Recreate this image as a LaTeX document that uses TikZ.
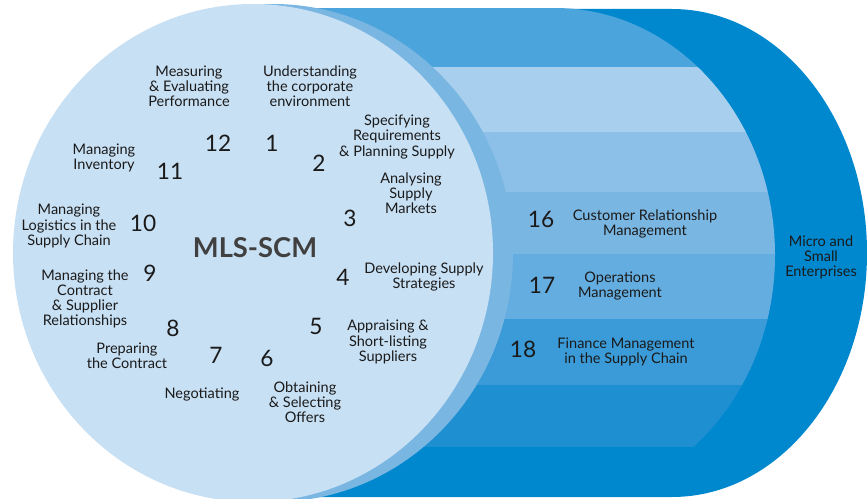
\documentclass[tikz,border=0pt]{standalone}
\usepackage{fontspec}
\setmainfont{Lato}
\usepackage{xcolor}
\usepackage{tikz}
\definecolor{ink}{HTML}{1A1A1A}
\definecolor{titlegrey}{HTML}{404040}
\definecolor{face}{HTML}{C8E0F4}
\definecolor{rim}{HTML}{7AB6E2}
\definecolor{deep}{HTML}{0088CF}
\definecolor{bandA}{HTML}{4CA4DC}
\definecolor{bandB}{HTML}{A8CFEE}
\definecolor{bandC}{HTML}{8CC0E8}
\definecolor{bandD}{HTML}{7AB6E2}
\definecolor{bandE}{HTML}{64ADE0}
\definecolor{bandF}{HTML}{3A9BD8}
\definecolor{bandG}{HTML}{1E90D2}
\tikzset{
  num/.style={text=ink, font=\fontsize{17}{17}\selectfont, inner sep=0pt},
  lbl/.style={text=ink, font=\fontsize{10.9}{11.3}\selectfont, align=center, inner sep=0pt},
  hub/.style={text=titlegrey, font=\fontsize{20.5}{20.5}\selectfont\bfseries, inner sep=0pt}
}

\begin{document}
\begin{tikzpicture}[x=0.75pt, y=-0.75pt]
  \useasboundingbox (0,0) rectangle (867,499);
  \clip (0,0) rectangle (867,499);

  % outer body
  \fill[deep] (260,9) -- (672,9) arc[start angle=-90, end angle=90, x radius=195, y radius=244] -- (260,497) -- cycle;

  % stripes
  \begin{scope}
    \clip (250,8) -- (555,8) arc[start angle=-90, end angle=90, x radius=220, y radius=247] -- (250,502) -- cycle;
    \foreach \ytop/\ybot/\col in {8/67/bandA, 67/132/bandB, 132/192/bandC, 192/254/bandD, 254/319/bandE, 319/385/bandF, 385/447/bandG}
      \fill[\col] (250,\ytop) rectangle (790,\ybot);
  \end{scope}

  % rim and front face
  \fill[rim] (273,253) ellipse[x radius=240, y radius=249];
  \fill[face] (253,253) ellipse[x radius=240, y radius=249];

  \node[hub] (hub) at (255,248) {MLS-SCM};

  % step numbers
  \foreach \n/\x/\y in {1/272/143, 2/319/163, 3/350/218, 4/343/277, 5/316/326, 6/267/358,
                        7/216/355, 8/173/328, 9/150/273, 10/143/223, 11/170/171, 12/218/143,
                        16/541/219, 17/542/285, 18/523/349}
    \node[num] (n\n) at (\x,\y) {\n};

  % step labels
  \node[lbl] (t1) at (310,86) {Understanding\\the corporate\\environment};
  \node[lbl] (t2) at (397,137) {Specifying\\Requirements\\\& Planning Supply};
  \node[lbl] (t3) at (411,193) {Analysing\\Supply\\Markets};
  \node[lbl] (t4) at (424,277) {Developing Supply\\Strategies};
  \node[lbl] (t5) at (388,342) {Appraising \&\\Short-listing\\Suppliers};
  \node[lbl] (t6) at (305,402) {Obtaining\\\& Selecting\\Offers};
  \node[lbl] (t7) at (202,394) {Negotiating};
  \node[lbl] (t8) at (127,356) {Preparing\\the Contract};
  \node[lbl] (t9) at (85,299) {Managing the\\Contract\\\& Supplier\\Relationships};
  \node[lbl] (t10) at (69,226) {Managing\\Logistics in the\\Supply Chain};
  \node[lbl] (t11) at (104,158) {Managing\\Inventory};
  \node[lbl] (t12) at (189,86) {Measuring\\\& Evaluating\\Performance};

  \node[lbl] (t16) at (645,224) {Customer Relationship\\Management};
  \node[lbl] (t17) at (620,286) {Operations\\Management};
  \node[lbl] (t18) at (626,352) {Finance Management\\in the Supply Chain};
  \node[lbl] (mse) at (821,257) {Micro and\\Small\\Enterprises};
\end{tikzpicture}
\end{document}
